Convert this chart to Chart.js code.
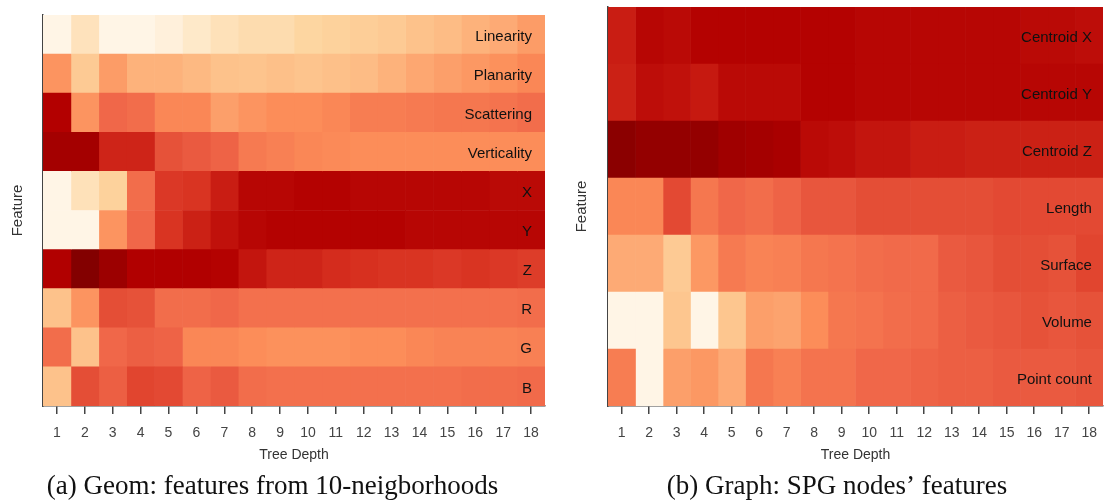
<!DOCTYPE html>
<html>
<head>
<meta charset="utf-8">
<title>Feature importance by tree depth</title>
<script src="https://cdn.jsdelivr.net/npm/chart.js@4.4.1/dist/chart.umd.min.js"></script>
<style>
  html, body { margin: 0; padding: 0; background: #ffffff; }
  #wrap { position: relative; width: 1108px; height: 504px; overflow: hidden; }
  .panel { position: absolute; top: 0; height: 504px; }
  #geomPanel { left: 0; width: 554px; }
  #graphPanel { left: 566px; width: 542px; }
</style>
</head>
<body>
<div id="wrap">
  <div class="panel" id="geomPanel"><canvas id="geomChart"></canvas></div>
  <div class="panel" id="graphPanel"><canvas id="graphChart"></canvas></div>
</div>
<script>
// Tree depths shown on the x axis
const depths = [1, 2, 3, 4, 5, 6, 7, 8, 9, 10, 11, 12, 13, 14, 15, 16, 17, 18];

// (a) point features computed on 10-neighborhoods
const geomFeatures = ['Linearity', 'Planarity', 'Scattering', 'Verticality', 'X', 'Y', 'Z', 'R', 'G', 'B'];
const geomLinearity   = [0.02, 0.16, 0.02, 0.02, 0.06, 0.12, 0.17, 0.20, 0.20, 0.24, 0.26, 0.28, 0.30, 0.34, 0.37, 0.40, 0.42, 0.46];
const geomPlanarity   = [0.48, 0.30, 0.46, 0.40, 0.40, 0.38, 0.34, 0.33, 0.35, 0.33, 0.35, 0.37, 0.40, 0.43, 0.45, 0.47, 0.49, 0.52];
const geomScattering  = [0.875, 0.48, 0.62, 0.60, 0.52, 0.52, 0.45, 0.48, 0.50, 0.50, 0.52, 0.55, 0.55, 0.56, 0.57, 0.57, 0.58, 0.60];
const geomVerticality = [0.91, 0.91, 0.78, 0.78, 0.67, 0.65, 0.63, 0.56, 0.54, 0.52, 0.51, 0.50, 0.50, 0.50, 0.50, 0.50, 0.50, 0.50];
const geomX = [0.02, 0.17, 0.26, 0.60, 0.73, 0.74, 0.80, 0.86, 0.86, 0.87, 0.87, 0.86, 0.86, 0.86, 0.86, 0.86, 0.85, 0.85];
const geomY = [0.02, 0.02, 0.48, 0.62, 0.74, 0.79, 0.83, 0.86, 0.87, 0.87, 0.87, 0.87, 0.87, 0.86, 0.86, 0.86, 0.86, 0.86];
const geomZ = [0.88, 0.99, 0.93, 0.88, 0.88, 0.88, 0.87, 0.82, 0.78, 0.78, 0.76, 0.75, 0.74, 0.74, 0.73, 0.74, 0.73, 0.72];
const geomR = [0.34, 0.48, 0.68, 0.67, 0.60, 0.60, 0.62, 0.59, 0.59, 0.59, 0.59, 0.59, 0.59, 0.59, 0.59, 0.59, 0.59, 0.60];
const geomG = [0.60, 0.34, 0.62, 0.64, 0.63, 0.52, 0.52, 0.50, 0.49, 0.49, 0.49, 0.50, 0.50, 0.52, 0.53, 0.53, 0.53, 0.54];
const geomB = [0.34, 0.68, 0.64, 0.70, 0.69, 0.63, 0.65, 0.60, 0.59, 0.59, 0.59, 0.59, 0.59, 0.59, 0.59, 0.60, 0.60, 0.61];
const geomValues = [geomLinearity, geomPlanarity, geomScattering, geomVerticality, geomX, geomY, geomZ, geomR, geomG, geomB];

// (b) superpoint graph node features
const graphFeatures = ['Centroid X', 'Centroid Y', 'Centroid Z', 'Length', 'Surface', 'Volume', 'Point count'];
const graphCentroidX = [0.80, 0.86, 0.85, 0.87, 0.87, 0.87, 0.87, 0.87, 0.87, 0.86, 0.86, 0.86, 0.86, 0.86, 0.86, 0.85, 0.85, 0.84];
const graphCentroidY = [0.79, 0.84, 0.83, 0.81, 0.85, 0.85, 0.85, 0.87, 0.87, 0.86, 0.86, 0.86, 0.86, 0.86, 0.86, 0.86, 0.86, 0.86];
const graphCentroidZ = [0.97, 0.95, 0.95, 0.95, 0.92, 0.91, 0.90, 0.85, 0.84, 0.82, 0.82, 0.80, 0.80, 0.79, 0.79, 0.79, 0.79, 0.79];
const graphLength    = [0.52, 0.52, 0.69, 0.57, 0.62, 0.60, 0.63, 0.66, 0.66, 0.68, 0.68, 0.68, 0.68, 0.68, 0.69, 0.69, 0.69, 0.69];
const graphSurface   = [0.42, 0.42, 0.30, 0.47, 0.56, 0.53, 0.54, 0.57, 0.58, 0.60, 0.61, 0.61, 0.65, 0.66, 0.68, 0.68, 0.67, 0.70];
const graphVolume    = [0.02, 0.02, 0.32, 0.02, 0.32, 0.45, 0.44, 0.50, 0.57, 0.58, 0.60, 0.61, 0.64, 0.65, 0.66, 0.67, 0.66, 0.67];
const graphPointCount = [0.55, 0.02, 0.45, 0.47, 0.42, 0.57, 0.54, 0.58, 0.58, 0.62, 0.62, 0.63, 0.64, 0.64, 0.65, 0.65, 0.65, 0.66];
const graphValues = [graphCentroidX, graphCentroidY, graphCentroidZ, graphLength, graphSurface, graphVolume, graphPointCount];

// Sequential orange-red colour ramp (light cream -> dark red)
const orRdStops = [
  [255, 247, 236], [254, 232, 200], [253, 212, 158], [253, 187, 132], [252, 141, 89],
  [239, 101, 72], [215, 48, 31], [179, 0, 0], [127, 0, 0]
];
function orRd(v) {
  const t = Math.max(0, Math.min(1, v)) * (orRdStops.length - 1);
  const i = Math.min(orRdStops.length - 2, Math.floor(t));
  const f = t - i;
  const a = orRdStops[i], b = orRdStops[i + 1];
  const c = a.map((ch, k) => Math.round(ch + (b[k] - ch) * f));
  return `rgb(${c[0]},${c[1]},${c[2]})`;
}

const sans = 'Liberation Sans, Arial, sans-serif';
const serif = 'Liberation Serif, Times New Roman, serif';

function heatmap(canvasId, features, values, caption, layout) {
  // one floating-bar dataset per depth column; each bar covers [depth - 0.5, depth + 0.5]
  const datasets = depths.map((d, j) => ({
    label: String(d),
    data: features.map(() => [d - 0.5, d + 0.5]),
    backgroundColor: features.map((f, i) => orRd(values[i][j])),
    borderWidth: 0,
    barPercentage: 1,
    categoryPercentage: 1,
    grouped: false
  }));

  return new Chart(document.getElementById(canvasId), {
    type: 'bar',
    data: { labels: features, datasets },
    options: {
      indexAxis: 'y',
      responsive: true,
      maintainAspectRatio: false,
      animation: false,
      events: [],
      layout: { padding: { top: layout.top, right: layout.right, left: 0, bottom: 0 } },
      plugins: {
        legend: { display: false },
        tooltip: { enabled: false },
        title: {
          display: true,
          position: 'bottom',
          text: caption,
          color: '#111111',
          font: { family: serif, size: 27, weight: 'normal' },
          padding: { top: 7, bottom: 0.6 }
        }
      },
      scales: {
        x: {
          type: 'linear',
          position: 'bottom',
          min: 0.5,
          max: 18.5,
          afterBuildTicks: (scale) => { scale.ticks = depths.map(v => ({ value: v })); },
          afterFit: (scale) => { scale.height = 58; },
          grid: { display: true, drawOnChartArea: false, drawTicks: true, tickLength: 8, color: '#444444', lineWidth: 1.5 },
          border: { display: true, color: '#444444', width: 1.5 },
          ticks: {
            padding: 11, color: '#444444', autoSkip: false, maxRotation: 0,
            font: { family: sans, size: 14 },
            callback: (v) => String(v)
          },
          title: {
            display: true, text: 'Tree Depth', color: '#333333',
            font: { family: sans, size: 14 },
            padding: { top: 0, bottom: 0 }
          }
        },
        y: {
          type: 'category',
          position: 'left',
          offset: true,
          afterFit: (scale) => { scale.width = layout.axisWidth; },
          grid: { display: true, drawOnChartArea: false, drawTicks: false },
          border: { display: true, color: '#444444', width: 1.5 },
          ticks: { display: false },
          title: {
            display: true, text: 'Feature', color: '#333333',
            font: { family: sans, size: 15 },
            padding: { top: layout.titlePad, bottom: 0 }
          }
        },
        // feature names written inside the heatmap, right-aligned near its right edge,
        // with the labels on a layer above the cells
        names: {
          type: 'category',
          position: 'right',
          labels: features,
          offset: true,
          afterFit: (scale) => { scale.width = 0; scale.paddingTop = 0; scale.paddingBottom = 0; },
          grid: { display: false },
          border: { display: false },
          ticks: {
            z: 1,
            mirror: true, padding: -layout.labelPad, labelOffset: 2, color: '#111111',
            font: { family: sans, size: 15 }
          }
        }
      }
    }
  });
}

heatmap('geomChart', geomFeatures, geomValues, '(a) Geom: features from 10-neigborhoods',
        { top: 15, right: 9, axisWidth: 43, titlePad: 9, labelPad: 13 });
heatmap('graphChart', graphFeatures, graphValues, '(b) Graph: SPG nodes\u2019 features',
        { top: 7, right: 0, axisWidth: 42, titlePad: 7, labelPad: 11 });
</script>
</body>
</html>
